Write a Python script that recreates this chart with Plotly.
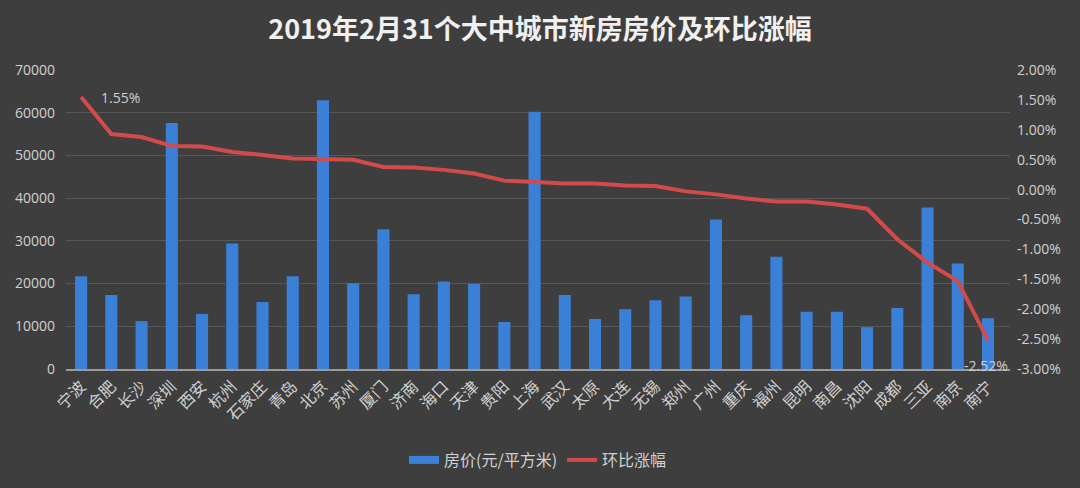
import plotly.graph_objects as go

cities = ["宁波", "合肥", "长沙", "深圳", "西安", "杭州", "石家庄", "青岛", "北京", "苏州",
          "厦门", "济南", "海口", "天津", "贵阳", "上海", "武汉", "太原", "大连", "无锡",
          "郑州", "广州", "重庆", "福州", "昆明", "南昌", "沈阳", "成都", "三亚", "南京", "南宁"]
prices = [21700, 17300, 11200, 57600, 12900, 29400, 15700, 21700, 62900, 20100,
          32700, 17500, 20500, 19900, 11000, 60200, 17300, 11700, 14000, 16100,
          17000, 35000, 12600, 26300, 13400, 13400, 9800, 14300, 37800, 24700, 11900]
mom = [1.55, 0.93, 0.88, 0.73, 0.72, 0.63, 0.58, 0.52, 0.51, 0.50,
       0.38, 0.37, 0.33, 0.27, 0.15, 0.13, 0.10, 0.10, 0.07, 0.06,
       -0.03, -0.08, -0.15, -0.20, -0.20, -0.25, -0.32, -0.83, -1.22, -1.53, -2.52]
left_ticks = [0, 10000, 20000, 30000, 40000, 50000, 60000, 70000]
right_ticks = [2.0, 1.5, 1.0, 0.5, 0.0, -0.5, -1.0, -1.5, -2.0, -2.5, -3.0]

font_cjk = "Noto Sans CJK SC, Noto Sans, sans-serif"
txt = "#d0d0d0"
bar_color = "#3a80d6"
line_color = "#d24a4a"

fig = go.Figure()
fig.add_trace(go.Bar(x=cities, y=prices, name="房价(元/平方米)", showlegend=False,
                     marker=dict(color=bar_color, line=dict(width=0))))
# legend-only entry to mimic the wide bar swatch
fig.add_trace(go.Scatter(x=[None], y=[None], name="房价(元/平方米)", mode="lines",
                         line=dict(color=bar_color, width=8)))
fig.add_trace(go.Scatter(x=cities, y=mom, name="环比涨幅", yaxis="y2",
                         mode="lines", line=dict(color=line_color, width=4)))

fig.add_annotation(x=cities[0], y=mom[0], yref="y2", text=f"{mom[0]:.2f}%",
                   showarrow=False, xanchor="left", xshift=18, yshift=-1,
                   font=dict(size=14, color=txt, family="Open Sans, sans-serif"))
fig.add_annotation(x=cities[-1], y=mom[-1], yref="y2", text=f"{mom[-1]:.2f}%",
                   showarrow=False, xanchor="center", yshift=-25, xshift=-2,
                   font=dict(size=14, color=txt, family="Open Sans, sans-serif"))

fig.update_layout(
    width=1080, height=488,
    paper_bgcolor="#3e3e3e", plot_bgcolor="rgba(0,0,0,0)",
    margin=dict(l=66, r=70, t=70, b=118),
    title=dict(text="<b>2019年2月31个大中城市新房房价及环比涨幅</b>", x=0.5, xanchor="center",
               y=0.94, yanchor="middle",
               font=dict(size=27, color="#f0f0f0", family=font_cjk)),
    bargap=0.6,
    showlegend=True,
    legend=dict(orientation="h", x=0.5, xanchor="center", y=-0.3, yanchor="middle",
                font=dict(size=16, color=txt, family=font_cjk), bgcolor="rgba(0,0,0,0)",
                traceorder="normal"),
    xaxis=dict(tickangle=-45, tickfont=dict(size=16, color=txt, family=font_cjk),
               showgrid=False, showline=True, linecolor="#9a9a9a", linewidth=1.5,
               ticks=""),
    yaxis=dict(range=[0, 70000], tickvals=left_ticks, ticktext=[str(v) for v in left_ticks],
               tickfont=dict(size=14, color=txt, family="Open Sans, sans-serif"),
               showgrid=True, gridcolor="#575757", gridwidth=1, zeroline=False,
               ticks="", ticklabelstandoff=10),
    yaxis2=dict(range=[-3, 2], overlaying="y", side="right",
                tickvals=right_ticks, ticktext=[f"{v:.2f}%" for v in right_ticks],
                tickfont=dict(size=14, color=txt, family="Open Sans, sans-serif"),
                showgrid=False, zeroline=False, ticks="", ticklabelstandoff=6),
)

fig.write_html("out.html")
